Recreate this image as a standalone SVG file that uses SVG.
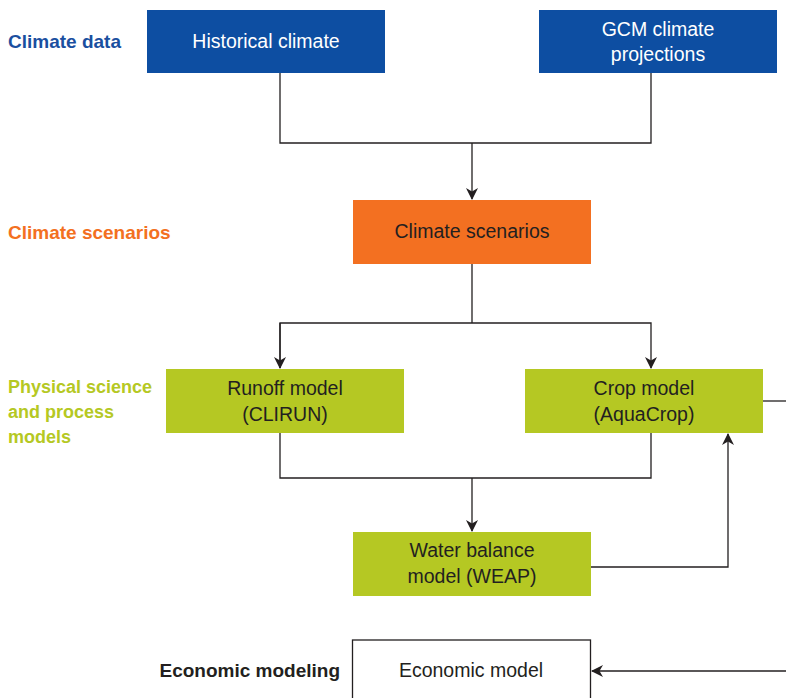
<svg xmlns="http://www.w3.org/2000/svg" width="786" height="698" viewBox="0 0 786 698">
<style>
text{font-family:"Liberation Sans",Arial,sans-serif;font-size:19px}
.lbl{font-weight:bold}
.sm{font-size:18px}
.nt{text-anchor:middle;fill:#231f20;font-size:19.5px}
.blue{fill:#0d4ea2}
.orange{fill:#f37021}
.green{fill:#b5c823}
.c{fill:none;stroke:#231f20;stroke-width:1.3}
</style>
<defs>
<marker id="ah" viewBox="0 0 12 12" refX="11" refY="6" markerWidth="12" markerHeight="12" markerUnits="userSpaceOnUse" orient="auto">
<path d="M0,0 L12,6 L0,12 L3.5,6 z" fill="#231f20"/>
</marker>
</defs>
<g id="labels">
<text class="lbl" x="8" y="48" fill="#1a4f9f">Climate data</text>
<text class="lbl" x="8" y="239" fill="#f37021">Climate scenarios</text>
<text class="lbl sm" x="8" y="393" fill="#b5c823">Physical science</text>
<text class="lbl sm" x="8" y="418" fill="#b5c823">and process</text>
<text class="lbl sm" x="8" y="443" fill="#b5c823">models</text>
<text class="lbl" x="340" y="677" fill="#231f20" text-anchor="end">Economic modeling</text>
</g>
<g id="connectors">
<path class="c" d="M280,73 V143 H651 V73"/>
<path class="c" d="M472,143 V199" marker-end="url(#ah)"/>
<path class="c" d="M472,264 V323"/>
<path class="c" d="M280,368 V323 H651 V368" marker-end="url(#ah)"/>
<path class="c" d="M280,323 V368" marker-end="url(#ah)"/>
<path class="c" d="M280,433 V478 H651 V433"/>
<path class="c" d="M472,478 V531" marker-end="url(#ah)"/>
<path class="c" d="M591,567 H728 V434" marker-end="url(#ah)"/>
<path class="c" d="M763,401 H786"/>
<path class="c" d="M786,671 H592" marker-end="url(#ah)"/>
</g>
<g id="historical">
<rect class="blue" x="147" y="10" width="238" height="63"/>
<text class="nt" x="266" y="48" style="fill:#fff">Historical climate</text>
</g>
<g id="gcm">
<rect class="blue" x="539" y="10" width="238" height="63"/>
<text class="nt" x="658" y="36" style="fill:#fff">GCM climate</text>
<text class="nt" x="658" y="61" style="fill:#fff">projections</text>
</g>
<g id="scenarios">
<rect class="orange" x="353" y="200" width="238" height="64"/>
<text class="nt" x="472" y="238">Climate scenarios</text>
</g>
<g id="runoff">
<rect class="green" x="166" y="369" width="238" height="64"/>
<text class="nt" x="285" y="395">Runoff model</text>
<text class="nt" x="285" y="421">(CLIRUN)</text>
</g>
<g id="crop">
<rect class="green" x="525" y="369" width="238" height="64"/>
<text class="nt" x="644" y="395">Crop model</text>
<text class="nt" x="644" y="421">(AquaCrop)</text>
</g>
<g id="weap">
<rect class="green" x="353" y="532" width="238" height="64"/>
<text class="nt" x="472" y="557">Water balance</text>
<text class="nt" x="472" y="583">model (WEAP)</text>
</g>
<g id="economic">
<rect x="352.5" y="640" width="238" height="70" fill="#fff" stroke="#231f20" stroke-width="1.3"/>
<text class="nt" x="471" y="677">Economic model</text>
</g>
</svg>
